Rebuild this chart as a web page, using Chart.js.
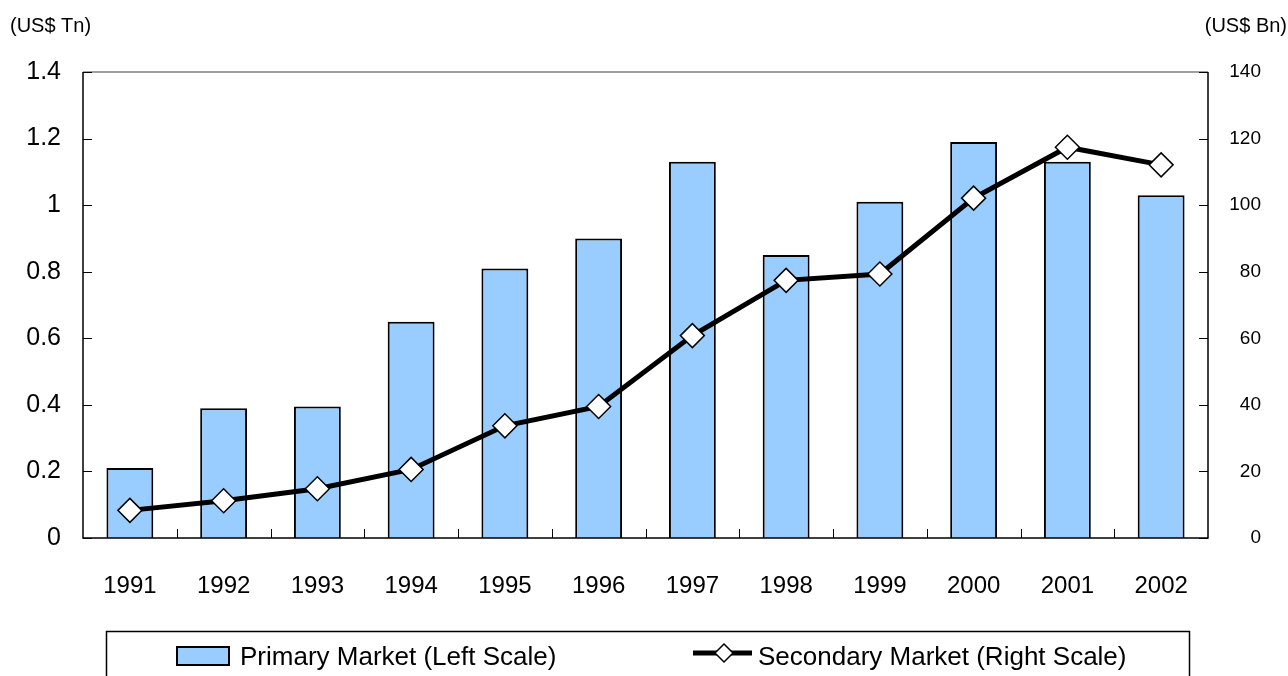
<!DOCTYPE html>
<html>
<head>
<meta charset="utf-8">
<script src="https://cdn.jsdelivr.net/npm/chart.js@4/dist/chart.umd.min.js"></script>
<style>
  html, body { margin: 0; padding: 0; background: #ffffff; }
  #wrap { width: 1288px; height: 676px; position: relative; }
</style>
</head>
<body>
<div id="wrap"><canvas id="c" width="1288" height="676"></canvas></div>
<script>
// Years on the category axis
const years = ['1991','1992','1993','1994','1995','1996','1997','1998','1999','2000','2001','2002'];
// Primary market issuance, US$ trillion (left scale)
const primaryMarket = [0.21, 0.39, 0.395, 0.65, 0.81, 0.90, 1.13, 0.85, 1.01, 1.19, 1.13, 1.03];
// Secondary market, US$ billion (right scale)
const secondaryMarket = [8.3, 11.2, 14.8, 20.6, 33.7, 39.5, 60.8, 77.4, 79.3, 102.1, 117.4, 112.1];
// Tick labels for both value axes
const leftTicks = ['0', '0.2', '0.4', '0.6', '0.8', '1', '1.2', '1.4'];
const rightTicks = ['0', '20', '40', '60', '80', '100', '120', '140'];
const leftUnit = '(US$ Tn)';
const rightUnit = '(US$ Bn)';
const seriesNames = ['Primary Market (Left Scale)', 'Secondary Market (Right Scale)'];

const FONT = '"Liberation Sans", Arial, sans-serif';
const BAR_FILL = '#99CCFF';

// Frame, inner tick marks, unit captions and boxed legend
const decorations = {
  id: 'decorations',
  afterDatasetsDraw(chart) {
    const ctx = chart.ctx;
    const a = chart.chartArea;
    const x = chart.scales.x, yl = chart.scales.y, yr = chart.scales.y1;
    ctx.save();
    // frame
    ctx.lineWidth = 1.5;
    ctx.strokeStyle = '#808080';
    ctx.beginPath(); ctx.moveTo(a.left, a.top); ctx.lineTo(a.right, a.top); ctx.stroke();
    ctx.strokeStyle = '#000000';
    ctx.beginPath();
    ctx.moveTo(a.left, a.top); ctx.lineTo(a.left, a.bottom); ctx.lineTo(a.right, a.bottom); ctx.lineTo(a.right, a.top);
    ctx.stroke();
    // inner ticks on value axes
    ctx.lineWidth = 1;
    ctx.beginPath();
    yl.ticks.forEach(t => { const p = Math.round(yl.getPixelForValue(t.value)) + 0.5; ctx.moveTo(a.left, p); ctx.lineTo(a.left + 9, p); });
    yr.ticks.forEach(t => { const p = Math.round(yr.getPixelForValue(t.value)) + 0.5; ctx.moveTo(a.right - 9, p); ctx.lineTo(a.right, p); });
    // category boundary ticks
    for (let i = 1; i < years.length; i++) {
      const p = Math.round((x.getPixelForValue(i - 1) + x.getPixelForValue(i)) / 2) + 0.5;
      ctx.moveTo(p, a.bottom); ctx.lineTo(p, a.bottom - 9);
    }
    ctx.stroke();
    ctx.restore();
  },
  afterDraw(chart) {
    const ctx = chart.ctx;
    ctx.save();
    // unit captions
    ctx.fillStyle = '#000';
    ctx.font = '20px ' + FONT;
    ctx.textBaseline = 'middle';
    ctx.textAlign = 'left';
    ctx.fillText(leftUnit, 10, 26);
    ctx.textAlign = 'right';
    ctx.fillText(rightUnit, 1287, 26);

    // legend box
    ctx.lineWidth = 1.5;
    ctx.strokeStyle = '#000';
    ctx.strokeRect(106.5, 631.5, 1083, 80);

    const barDs = chart.data.datasets[0];
    const lineDs = chart.data.datasets[1];
    ctx.font = '26px ' + FONT;
    ctx.textAlign = 'left';
    ctx.textBaseline = 'alphabetic';

    // bar swatch
    ctx.fillStyle = barDs.backgroundColor;
    ctx.fillRect(177, 647, 52, 18);
    ctx.lineWidth = 2;
    ctx.strokeStyle = barDs.borderColor;
    ctx.strokeRect(177, 647, 52, 18);
    ctx.fillStyle = '#000';
    ctx.fillText(barDs.label, 240, 665);

    // line swatch
    ctx.strokeStyle = lineDs.borderColor;
    ctx.lineWidth = 5;
    ctx.beginPath(); ctx.moveTo(693, 653); ctx.lineTo(752, 653); ctx.stroke();
    ctx.beginPath();
    ctx.moveTo(724, 644); ctx.lineTo(733, 653); ctx.lineTo(724, 662); ctx.lineTo(715, 653); ctx.closePath();
    ctx.fillStyle = '#fff'; ctx.fill();
    ctx.lineWidth = 1.5; ctx.strokeStyle = '#000'; ctx.stroke();
    ctx.fillStyle = '#000';
    ctx.fillText(lineDs.label, 758, 665);
    ctx.restore();
  }
};

new Chart(document.getElementById('c'), {
  type: 'bar',
  data: {
    labels: years,
    datasets: [
      {
        type: 'bar',
        label: seriesNames[0],
        data: primaryMarket,
        yAxisID: 'y',
        backgroundColor: BAR_FILL,
        borderColor: '#000000',
        borderWidth: 2,
        barPercentage: 0.5,
        categoryPercentage: 1.0,
        order: 2
      },
      {
        type: 'line',
        label: seriesNames[1],
        data: secondaryMarket,
        yAxisID: 'y1',
        borderColor: '#000000',
        borderWidth: 5,
        tension: 0,
        pointStyle: 'rectRot',
        pointRadius: 12,
        pointBackgroundColor: '#ffffff',
        pointBorderColor: '#000000',
        pointBorderWidth: 1.5,
        order: 1
      }
    ]
  },
  options: {
    responsive: false,
    animation: false,
    devicePixelRatio: 1,
    layout: { padding: { top: 72, right: 27, bottom: 58, left: 0 } },
    plugins: { legend: { display: false }, tooltip: { enabled: false } },
    scales: {
      x: {
        type: 'category',
        offset: true,
        grid: { display: false, drawTicks: false },
        border: { display: false },
        ticks: { color: '#000', font: { family: FONT, size: 24 }, padding: 34, maxRotation: 0, autoSkip: false },
        afterFit(s) { s.height = 80; }
      },
      y: {
        position: 'left',
        min: 0, max: 1.4,
        grid: { display: false, drawTicks: false },
        border: { display: false },
        ticks: {
          stepSize: 0.2,
          color: '#000',
          font: { family: FONT, size: 25 },
          padding: 22,
          callback: (v, i) => leftTicks[i]
        },
        afterFit(s) { s.width = 83; }
      },
      y1: {
        position: 'right',
        min: 0, max: 140,
        grid: { display: false, drawTicks: false },
        border: { display: false },
        ticks: {
          stepSize: 20,
          color: '#000',
          font: { family: FONT, size: 19 },
          padding: 18,
          crossAlign: 'far',
          callback: (v, i) => rightTicks[i]
        },
        afterFit(s) { s.width = 53; }
      }
    }
  },
  plugins: [decorations]
});
</script>
</body>
</html>
